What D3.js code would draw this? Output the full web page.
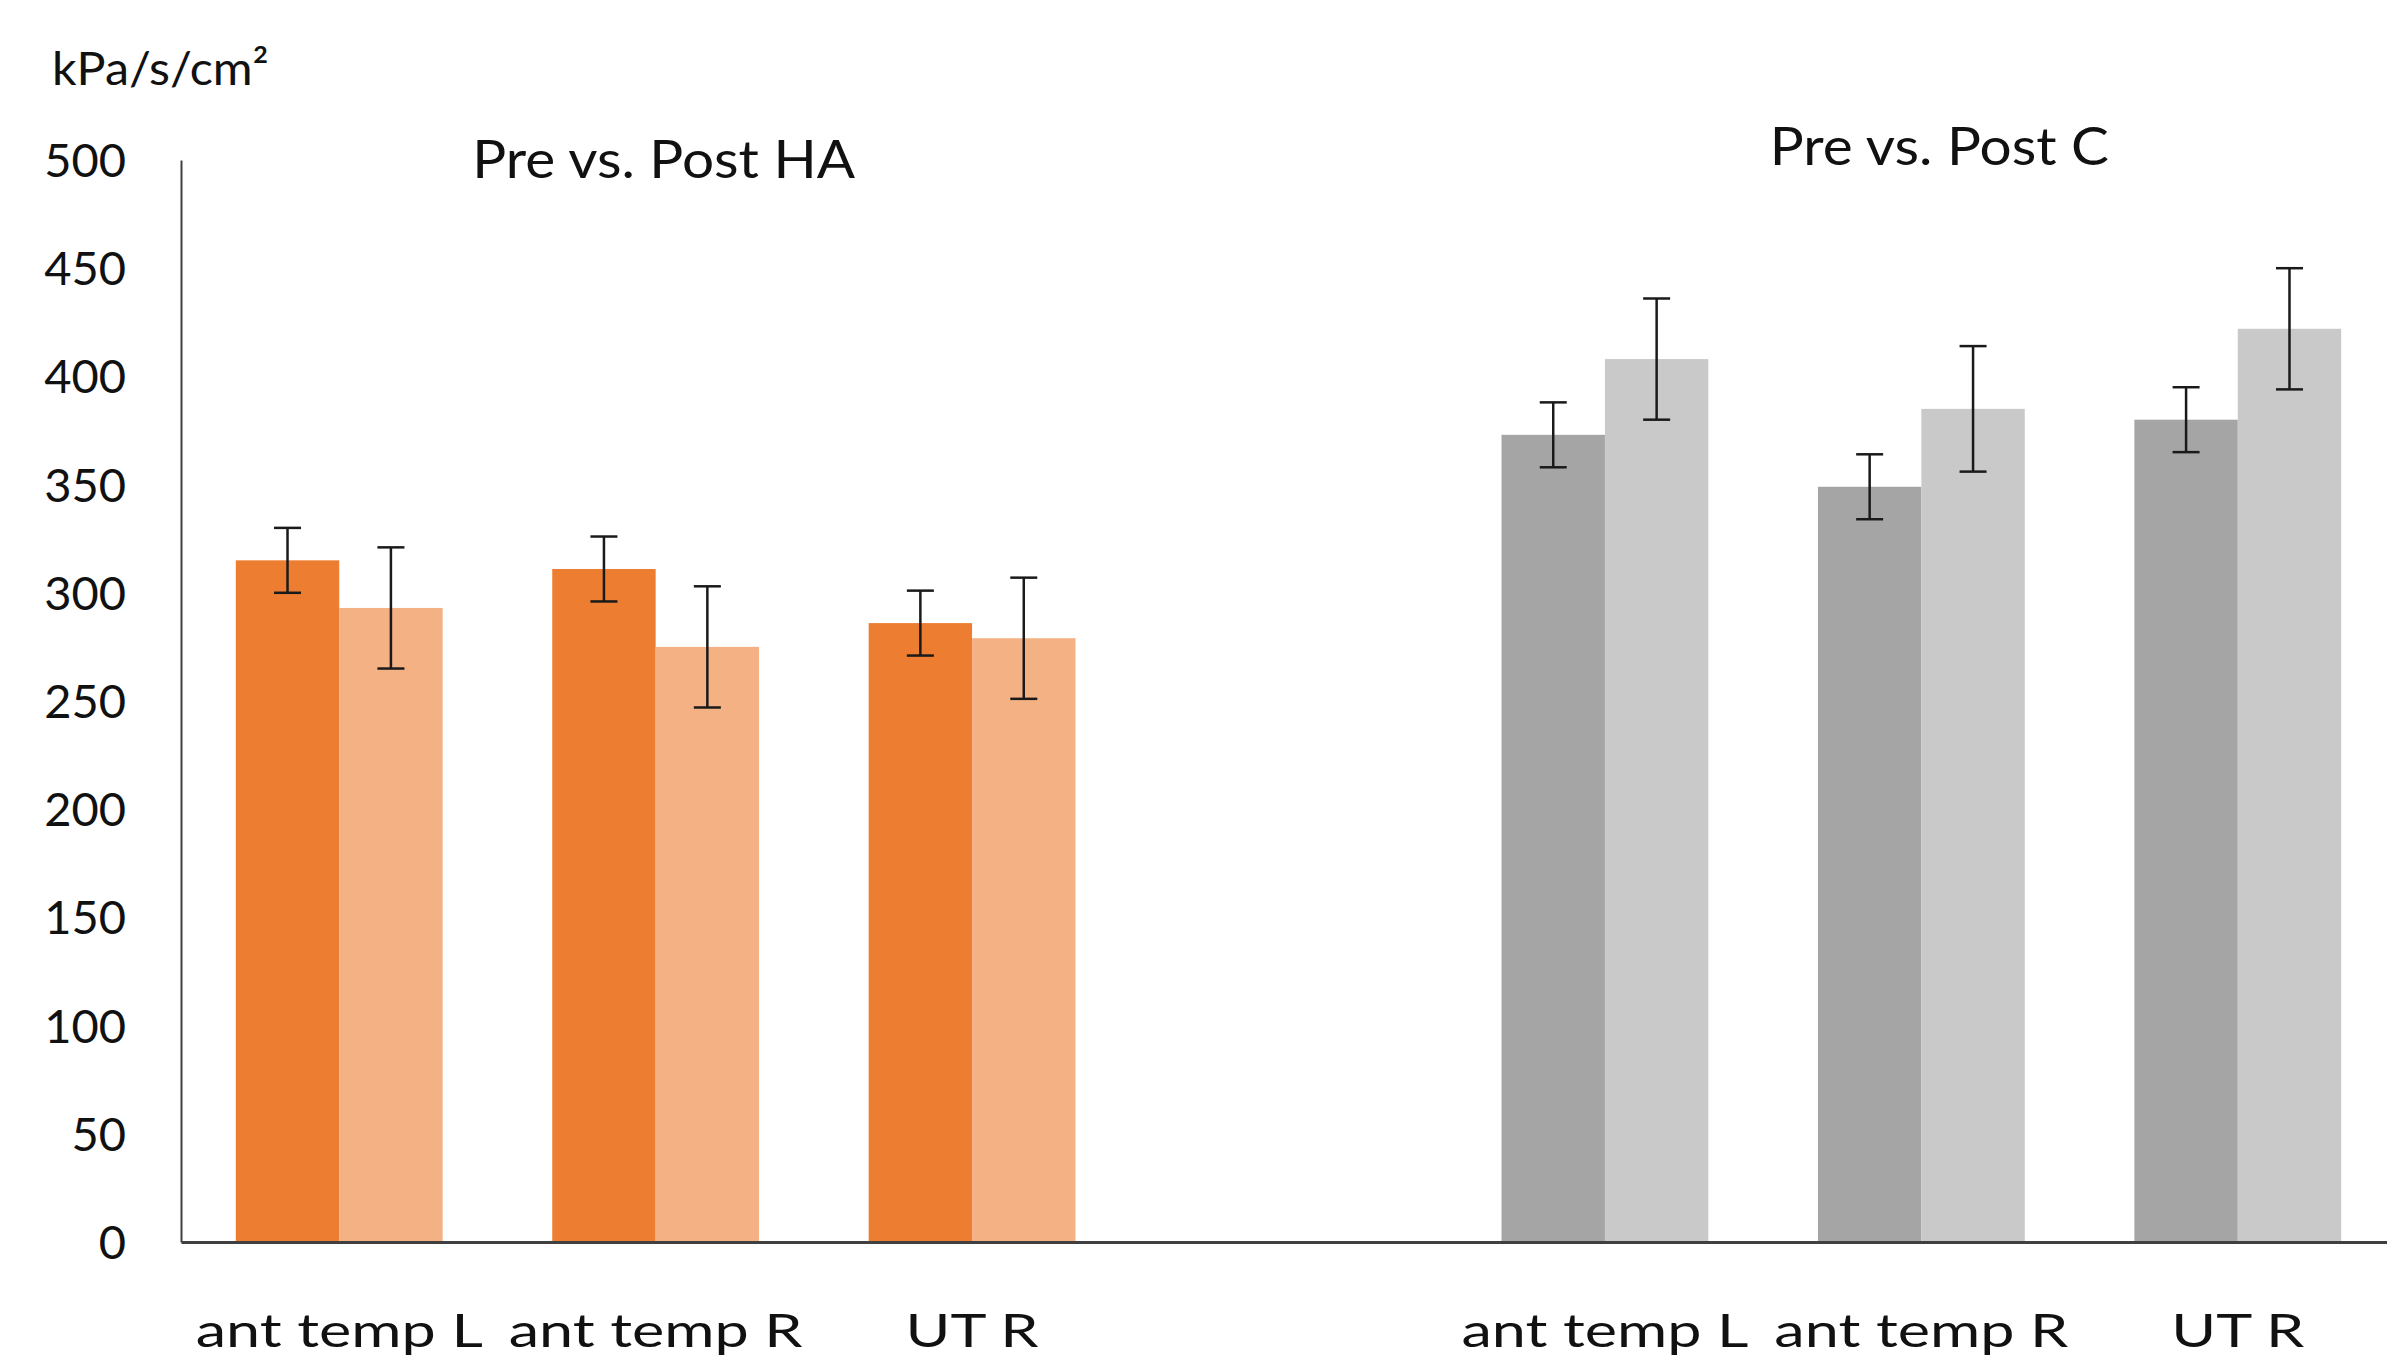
<!DOCTYPE html>
<html>
<head>
<meta charset="utf-8">
<script src="https://cdn.jsdelivr.net/npm/d3@7"></script>
<style>
  body { margin: 0; background: #fff; }
  svg { display: block; }
  svg text { font-family: Lato, "Open Sans", sans-serif; }
</style>
</head>
<body>
<svg id="chart" width="2387" height="1362"></svg>
<script>
const sites = ["ant temp L", "ant temp R", "UT R"];
const groupTitles = ["Pre vs. Post HA", "Pre vs. Post C"];
const unitLabel = "kPa/s/cm²";

const haPre = [315, 311, 286];
const haPost = [293, 275, 279];
const haPreErr = [15, 15, 15];
const haPostErr = [28, 28, 28];

const cPre = [373, 349, 380];
const cPost = [408, 385, 422];
const cPreErr = [15, 15, 15];
const cPostErr = [28, 29, 28];

const yTicks = [0, 50, 100, 150, 200, 250, 300, 350, 400, 450, 500];

(function () {
  const svg = d3.select("#chart"),
    margin = { top: 160, right: 0, bottom: 120, left: 181 },
    width = 2215,
    height = +svg.attr("height") - margin.top - margin.bottom;

  const chart = svg
    .append("g")
    .attr("transform", `translate(${margin.left},${margin.top})`);

  // one slot per site, with an empty slot between the two groups
  const slots = [
    ...sites.map((s) => "HA|" + s),
    "gap",
    ...sites.map((s) => "C|" + s),
  ];

  const rows = [];
  sites.forEach((s, i) => {
    rows.push({ slot: "HA|" + s, site: s, phase: "pre", v: haPre[i], err: haPreErr[i], color: "#ED7D31" });
    rows.push({ slot: "HA|" + s, site: s, phase: "post", v: haPost[i], err: haPostErr[i], color: "#F4B183" });
    rows.push({ slot: "C|" + s, site: s, phase: "pre", v: cPre[i], err: cPreErr[i], color: "#A5A5A5" });
    rows.push({ slot: "C|" + s, site: s, phase: "post", v: cPost[i], err: cPostErr[i], color: "#C9C9C9" });
  });

  const x = d3.scaleBand().domain(slots).range([0, width]).padding(0);
  const xInner = d3
    .scaleBand()
    .domain(["pre", "post"])
    .range([0, x.bandwidth()])
    .paddingInner(0)
    .paddingOuter(0.53);

  const y = d3.scaleLinear().domain([0, 500]).range([height, 0]);

  // bars
  chart
    .selectAll("rect.bar")
    .data(rows)
    .join("rect")
    .attr("class", "bar")
    .attr("x", (d) => x(d.slot) + xInner(d.phase))
    .attr("width", xInner.bandwidth())
    .attr("y", (d) => y(d.v))
    .attr("height", (d) => height - y(d.v))
    .attr("fill", (d) => d.color);

  // error bars
  const capW = 27;
  const eb = chart
    .selectAll("g.err")
    .data(rows)
    .join("g")
    .attr("class", "err")
    .attr("transform", (d) => `translate(${x(d.slot) + xInner(d.phase) + xInner.bandwidth() / 2},0)`)
    .attr("stroke", "#1a1a1a")
    .attr("stroke-width", 2.5);

  eb.append("line")
    .attr("y1", (d) => y(d.v + d.err))
    .attr("y2", (d) => y(d.v - d.err));
  eb.append("line")
    .attr("x1", -capW / 2)
    .attr("x2", capW / 2)
    .attr("y1", (d) => y(d.v + d.err))
    .attr("y2", (d) => y(d.v + d.err));
  eb.append("line")
    .attr("x1", -capW / 2)
    .attr("x2", capW / 2)
    .attr("y1", (d) => y(d.v - d.err))
    .attr("y2", (d) => y(d.v - d.err));

  // y axis
  const yAxis = chart
    .append("g")
    .call(d3.axisLeft(y).tickValues(yTicks).tickSize(0).tickPadding(55));
  yAxis.attr("font-family", null);
  yAxis.select(".domain").attr("stroke", "#404040").attr("stroke-width", 2);
  yAxis
    .selectAll("text")
    .attr("fill", "#111")
    .style("font-size", "47px")
    .attr("dy", "0.35em");

  // x axis
  const xAxis = chart
    .append("g")
    .attr("transform", `translate(0,${height})`)
    .call(
      d3
        .axisBottom(x)
        .tickSize(0)
        .tickPadding(0)
        .tickFormat((d) => (d === "gap" ? "" : d.split("|")[1]))
    );
  xAxis.attr("font-family", null);
  xAxis.select(".domain").attr("stroke", "#404040").attr("stroke-width", 3);
  xAxis
    .selectAll("text")
    .attr("fill", "#111")
    .attr("dy", null)
    .attr("y", 105)
    .style("font-size", "47px")
    .attr("transform", "scale(1.3,1)");

  // unit label
  svg
    .append("text")
    .attr("transform", "translate(52,85) scale(1.03,1)")
    .attr("fill", "#111")
    .style("font-size", "47px")
    .text(unitLabel);

  // group titles
  const titleX = [x("HA|ant temp R") + x.bandwidth() / 2 + 8, x("C|ant temp R") + x.bandwidth() / 2 + 18];
  const titleY = [18, 5];
  chart
    .selectAll("text.group-title")
    .data(groupTitles)
    .join("text")
    .attr("class", "group-title")
    .attr("text-anchor", "middle")
    .attr("transform", (d, i) => `translate(${titleX[i]},${titleY[i]}) scale(1.07,1)`)
    .attr("fill", "#111")
    .style("font-size", "53px")
    .text((d) => d);
})();
</script>
</body>
</html>
